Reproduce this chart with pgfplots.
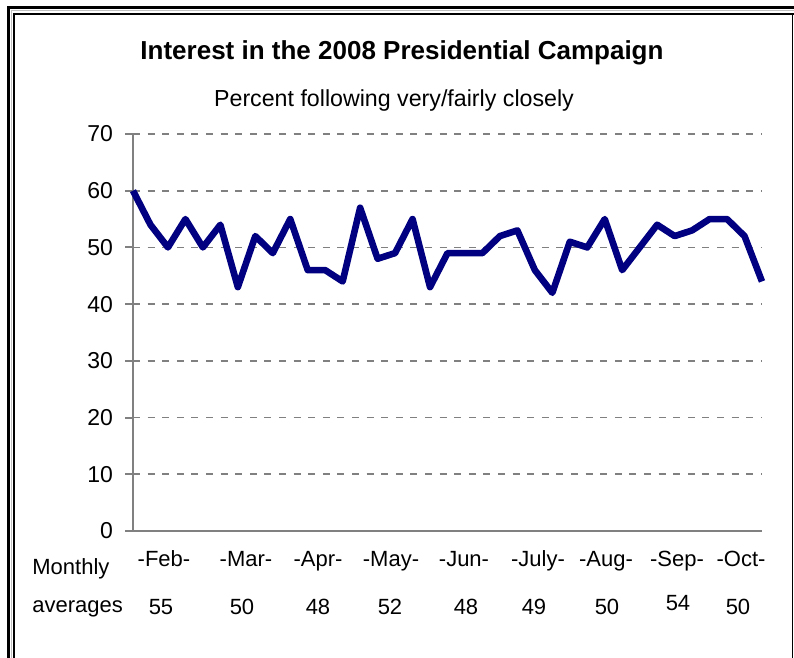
\documentclass[border=0pt]{standalone}
\usepackage{pgfplots}
\pgfplotsset{compat=1.18}
\usepackage{fontspec}
\setmainfont{Liberation Sans}
\definecolor{navyline}{RGB}{0,0,128}
\definecolor{axgray}{RGB}{128,128,128}
\begin{document}
\begin{tikzpicture}[x=0.5pt,y=0.5pt]
\useasboundingbox (0,0) rectangle (794,658);
\fill[white] (0,0) rectangle (794,658);
% frame
\draw[black,line width=1.5pt] (8,-2)--(8,650)--(796,650);
\draw[gray!50,line width=0.5pt] (11,-2)--(11,647)--(796,647);
\draw[black,line width=1pt] (14,-2)--(14,644)--(796,644);
\draw[black,line width=0.75pt] (792.5,-2)--(792.5,644);
\begin{axis}[
  at={(66.5pt,63.5pt)}, anchor=south west,
  scale only axis, width=314.5pt, height=198.5pt,
  xmin=0, xmax=36, ymin=0, ymax=70,
  axis x line=bottom, axis y line=left,
  axis line style={-, axgray, line width=1pt},
  xtick=\empty, ytick={0,10,...,70},
  ymajorgrids,
  major grid style={axgray, line width=0.8pt, dash pattern=on 3.5pt off 3.8pt},
  tick align=outside, major tick length=4pt,
  tick style={axgray, line width=1pt},
  yticklabel style={font=\fontsize{11.5}{13}\selectfont, text=black, xshift=-2.5pt},
  /pgf/number format/assume math mode=true,
  clip=false,
]
\addplot[navyline, line width=3.3pt, line join=round, mark=none] coordinates {
(0,60) (1,54) (2,50) (3,55) (4,50) (5,54) (6,43) (7,52) (8,49) (9,55)
(10,46) (11,46) (12,44) (13,57) (14,48) (15,49) (16,55) (17,43) (18,49) (19,49)
(20,49) (21,52) (22,53) (23,46) (24,42) (25,51) (26,50) (27,55) (28,46) (29,50)
(30,54) (31,52) (32,53) (33,55) (34,55) (35,52) (36,44)
};
\end{axis}
\node[font=\fontsize{13}{15}\selectfont\bfseries, anchor=base] at (402,598) {Interest in the 2008 Presidential Campaign};
\node[font=\fontsize{11.6}{13}\selectfont, anchor=base] at (394,551) {Percent following very/fairly closely};
\begin{scope}[every node/.style={font=\fontsize{11}{13}\selectfont, anchor=base, inner sep=0pt}]
\node[anchor=base west] at (32,83) {Monthly};
\node[anchor=base west] at (32,45) {averages};
\node at (164,91) {-Feb-};
\node at (246,91) {-Mar-};
\node at (318,91) {-Apr-};
\node at (391,91) {-May-};
\node at (464,91) {-Jun-};
\node at (538,91) {-July-};
\node at (606,91) {-Aug-};
\node at (677,91) {-Sep-};
\node at (741,91) {-Oct-};
\node at (161,43) {55};
\node at (242,43) {50};
\node at (318,43) {48};
\node at (390,43) {52};
\node at (466,43) {48};
\node at (534,43) {49};
\node at (607,43) {50};
\node at (678,47) {54};
\node at (738,43) {50};
\end{scope}
\end{tikzpicture}
\end{document}
